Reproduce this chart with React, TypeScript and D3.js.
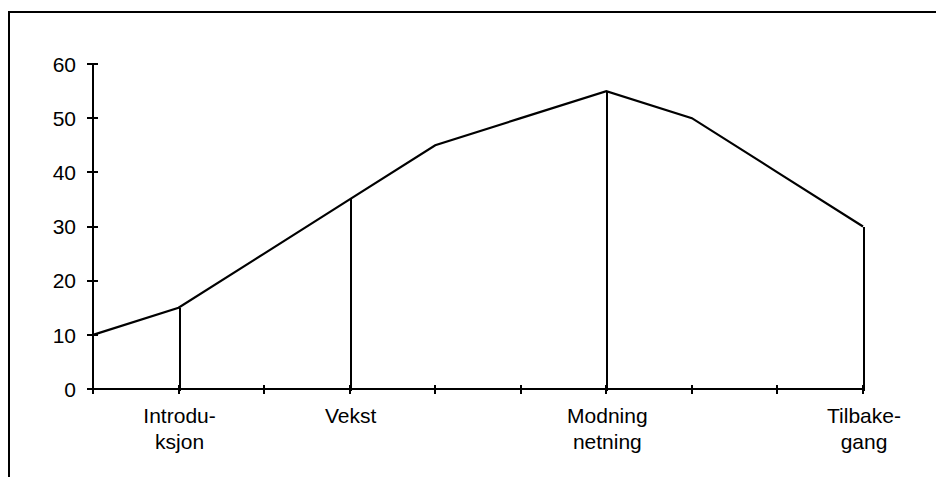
import * as d3 from "d3";

// product life cycle curve, one value per category slot
const slots = [0, 1, 2, 3, 4, 5, 6, 7, 8, 9];
const sales = [10, 15, 25, 35, 45, 50, 55, 50, 40, 30];
const yTicks = [0, 10, 20, 30, 40, 50, 60];

// phase labels sit under these slots, drop lines come down from them
const phaseSlots = [1, 3, 6, 9];
const phaseLabels = [
  ["Introdu-", "ksjon"],
  ["Vekst"],
  ["Modning", "netning"],
  ["Tilbake-", "gang"],
];

const width = 936;
const height = 477;
const font = "'Liberation Sans', Arial, sans-serif";

export default function App() {
  const x = d3.scaleLinear().domain([0, 9]).range([93, 863]);
  const y = d3.scaleLinear().domain([0, 60]).range([389, 64]);

  const line = d3
    .line<number>()
    .x((_, i) => x(slots[i]))
    .y((d) => y(d));

  return (
    <svg
      width={width}
      height={height}
      style={{ position: "absolute", left: 0, top: 0, background: "#fff" }}
      fontFamily={font}
    >
      {/* frame: only top and left edges show */}
      <g stroke="#000" strokeWidth={2.5} shapeRendering="crispEdges">
        <line x1={8} x2={width} y1={12} y2={12} />
        <line x1={9} x2={9} y1={11} y2={height} />
      </g>

      {/* y axis */}
      <g stroke="#000" strokeWidth={2} shapeRendering="crispEdges">
        <line x1={x(0)} x2={x(0)} y1={y(60)} y2={y(0)} />
        {yTicks.map((t) => (
          <line key={t} x1={x(0) - 6} x2={x(0) + 5} y1={y(t)} y2={y(t)} />
        ))}
      </g>
      <g fontSize={21} textAnchor="end" fill="#000">
        {yTicks.map((t) => (
          <text key={t} x={x(0) - 17} y={y(t)} dy="0.37em">
            {t}
          </text>
        ))}
      </g>

      {/* x axis */}
      <g stroke="#000" strokeWidth={2} shapeRendering="crispEdges">
        <line x1={x(0)} x2={x(9)} y1={y(0)} y2={y(0)} />
        {slots.map((s) => (
          <line key={s} x1={x(s)} x2={x(s)} y1={y(0) - 4} y2={y(0) + 5} />
        ))}
      </g>

      {/* drop lines */}
      <g stroke="#000" strokeWidth={2} shapeRendering="crispEdges">
        {phaseSlots.map((s) => (
          <line key={s} x1={x(s) + 1} x2={x(s) + 1} y1={y(sales[s])} y2={y(0) + 2} />
        ))}
      </g>

      <path d={line(sales) ?? ""} fill="none" stroke="#000" strokeWidth={2.2} />

      <g fontSize={21} textAnchor="middle" fill="#000">
        {phaseSlots.map((s, i) => (
          <text key={s} x={x(s) + 1} y={423}>
            {phaseLabels[i].map((t, j) => (
              <tspan key={j} x={x(s) + 1} dy={j === 0 ? 0 : 26}>
                {t}
              </tspan>
            ))}
          </text>
        ))}
      </g>
    </svg>
  );
}
